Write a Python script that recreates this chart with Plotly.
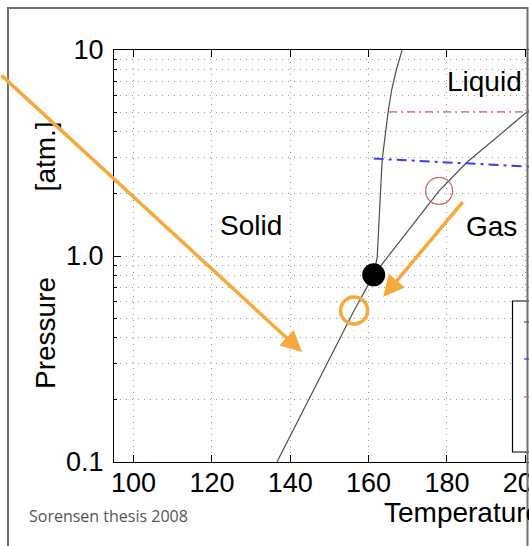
import math
import plotly.graph_objects as go

# Xenon phase diagram: temperature [K] vs pressure [atm], log pressure axis
sublimation_T = [136.6, 147.2, 156.3, 161.3]
sublimation_P = [0.10, 0.25, 0.544, 0.81]

melting_T = [161.3, 162.2, 163.2, 163.5, 165.0, 165.9, 167.1, 168.6]
melting_P = [0.81, 0.99, 2.35, 2.97, 5.02, 6.43, 8.04, 10.06]

vapor_T = [161.3, 170.0, 178.0, 185.1, 200.3, 202.0]
vapor_P = [0.81, 1.32, 2.07, 2.85, 5.01, 5.30]

red_level_T = [165.2, 202.0]
red_level_P = [5.01, 5.01]

blue_level_T = [161.3, 202.0]
blue_level_P = [2.97, 2.71]

triple_T = [161.3]
triple_P = [0.81]

operating_T = [178.0]
operating_P = [2.07]

highlight_T = [156.3]
highlight_P = [0.544]

x_ticks = [100, 120, 140, 160, 180, 200]
y_ticks = [0.1, 1.0, 10]
y_ticktext = ["0.1", "1.0", "10"]
y_minor = [0.2, 0.3, 0.4, 0.5, 0.6, 0.7, 0.8, 0.9, 2, 3, 4, 5, 6, 7, 8, 9]

FONT = "Liberation Sans, Arial, Helvetica, sans-serif"
ORANGE = "#F8A93C"
CURVE = "#4d4d4d"
RED = "#c86464"
BLUE = "#3b3bf0"

# plot area in pixels
W, H = 529, 546
L, R, T, B = 114, 0, 50, 84
PW, PH = W - L - R, H - T - B


def px(x):
    return (x - L) / PW


def py(y):
    return (H - B - y) / PH


fig = go.Figure()

for xs, ys in [(sublimation_T, sublimation_P), (melting_T, melting_P), (vapor_T, vapor_P)]:
    fig.add_trace(go.Scatter(x=xs, y=ys, mode="lines",
                             line=dict(color=CURVE, width=1.2), showlegend=False))

fig.add_trace(go.Scatter(x=red_level_T, y=red_level_P, mode="lines",
                         line=dict(color=RED, width=1.3, dash="8px,4px,2px,4px"),
                         showlegend=False))
fig.add_trace(go.Scatter(x=blue_level_T, y=blue_level_P, mode="lines",
                         line=dict(color=BLUE, width=2, dash="10px,5px,3px,5px"),
                         showlegend=False))

fig.add_trace(go.Scatter(x=triple_T, y=triple_P, mode="markers",
                         marker=dict(color="black", size=23), showlegend=False))
fig.add_trace(go.Scatter(x=operating_T, y=operating_P, mode="markers",
                         marker=dict(symbol="circle-open", color=RED, size=27,
                                     line=dict(width=1.2)),
                         showlegend=False))
fig.add_trace(go.Scatter(x=highlight_T, y=highlight_P, mode="markers",
                         marker=dict(symbol="circle-open", color=ORANGE, size=27,
                                     line=dict(width=3.5)),
                         showlegend=False, cliponaxis=False))

grid = dict(gridcolor="#9a9a9a", griddash="1px,5px", gridwidth=1)

fig.update_xaxes(
    type="linear", range=[95, 95 + PW / 3.917], automargin=False,
    tickvals=x_ticks, ticks="inside", ticklen=7, tickcolor="black",
    showline=True, linecolor="black", linewidth=1.3, mirror="ticks",
    showgrid=True, **grid, zeroline=False,
    tickfont=dict(family=FONT, size=27, color="black"),
    ticklabelstandoff=-4, ticklabeloverflow="allow",
)
fig.update_yaxes(
    type="log", range=[-1, 1], automargin=False,
    tickvals=y_ticks, ticktext=y_ticktext, ticks="inside", ticklen=7, tickcolor="black",
    showline=True, linecolor="black", linewidth=1.3, mirror=False,
    showgrid=True, **grid, zeroline=False,
    minor=dict(tickvals=y_minor, ticks="inside", ticklen=3, tickcolor="black",
               showgrid=True, **grid),
    tickfont=dict(family=FONT, size=27, color="black"),
    ticklabelstandoff=4, ticklabeloverflow="allow",
)

annotations = [
    dict(text="Solid", x=130.0, y=math.log10(1.40), xref="x", yref="y"),
    dict(text="Gas", x=191.5, y=math.log10(1.39), xref="x", yref="y"),
    dict(text="Liquid", x=189.7, y=math.log10(7.03), xref="x", yref="y"),
]
for a in annotations:
    a.update(showarrow=False, font=dict(family=FONT, size=28, color="black"),
             xanchor="center", yanchor="middle")

annotations += [
    dict(text="Pressure" + "\u00a0" * 11 + "[atm.]", textangle=-90,
         x=px(45), y=py(255), xref="paper", yref="paper", showarrow=False,
         xanchor="center", yanchor="middle",
         font=dict(family=FONT, size=28, color="black")),
    dict(text="Temperature [K]", x=px(381.5), y=py(512), xref="paper", yref="paper",
         showarrow=False, xanchor="left", yanchor="middle",
         font=dict(family=FONT, size=28, color="black")),
    dict(text="Sorensen thesis 2008", x=px(27), y=py(516), xref="paper", yref="paper",
         showarrow=False, xanchor="left", yanchor="middle",
         font=dict(family="Open Sans, sans-serif", size=16, color="#555555")),
    # orange pointer arrows
    dict(text="", x=px(302), y=py(352), xref="paper", yref="paper",
         ax=-303, ay=-278, showarrow=True, arrowhead=2, arrowsize=1.2,
         arrowwidth=3.5, arrowcolor=ORANGE),
    dict(text="", x=px(383.3), y=py(296.7), xref="paper", yref="paper",
         ax=80.7, ay=-96, showarrow=True, arrowhead=2, arrowsize=1.2,
         arrowwidth=3.5, arrowcolor=ORANGE),
]

shapes = [
    # legend box
    dict(type="rect", xref="paper", yref="paper",
         x0=px(512.5), x1=px(560), y0=py(452), y1=py(301),
         line=dict(color="black", width=1.2), fillcolor="white", layer="above"),
    # outer frame
    dict(type="rect", xref="paper", yref="paper",
         x0=px(8), x1=px(527.5), y0=py(600), y1=py(8),
         line=dict(color="#707070", width=2), layer="above"),
]
for yy, col in [(322, "#555555"), (359, BLUE), (397, RED)]:
    shapes.append(dict(type="line", xref="paper", yref="paper",
                       x0=px(524), x1=px(540), y0=py(yy), y1=py(yy),
                       line=dict(color=col, width=1.2)))

fig.update_layout(
    width=W, height=H,
    margin=dict(l=L, r=R, t=T, b=B, autoexpand=False),
    paper_bgcolor="white", plot_bgcolor="white",
    annotations=annotations, shapes=shapes,
    showlegend=False,
)

fig.write_html("out.html")
